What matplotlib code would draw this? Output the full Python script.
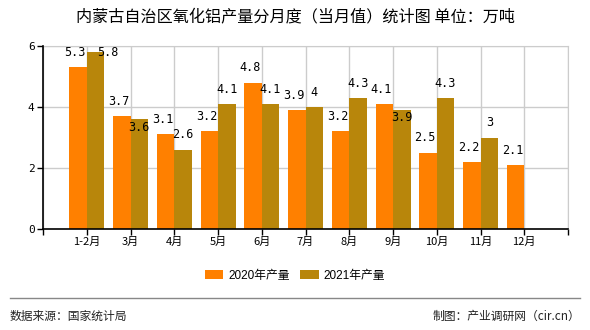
import matplotlib
matplotlib.use("Agg")
import matplotlib.pyplot as plt
import numpy as np

categories = ["1-2月", "3月", "4月", "5月", "6月", "7月", "8月", "9月", "10月", "11月", "12月"]
v2020 = [5.3, 3.7, 3.1, 3.2, 4.8, 3.9, 3.2, 4.1, 2.5, 2.2, 2.1]
v2021 = [5.8, 3.6, 2.6, 4.1, 4.1, 4.0, 4.3, 3.9, 4.3, 3.0, None]
series_names = ["2020年产量", "2021年产量"]
title = "内蒙古自治区氧化铝产量分月度（当月值）统计图 单位：万吨"
source = "数据来源：国家统计局"
credit = "制图：产业调研网（cir.cn）"

C2020 = "#FF8000"
C2021 = "#B8860B"
CJK = ["Noto Sans CJK SC", "DejaVu Sans"]
plt.rcParams["font.family"] = CJK

W, H = 590, 330
fig = plt.figure(figsize=(W / 100, H / 100), dpi=100)
ax = fig.add_axes([43 / W, 1 - 229 / H, (568 - 43) / W, (229 - 46) / H])

n = len(categories)
x = np.arange(n)
bw = 0.4
ax.bar(x - bw / 2, v2020, width=bw, color=C2020, zorder=3, label=series_names[0])
x21 = [xi for xi, v in zip(x, v2021) if v is not None]
y21 = [v for v in v2021 if v is not None]
ax.bar(np.array(x21) + bw / 2, y21, width=bw, color=C2021, zorder=3, label=series_names[1])

ax.set_xlim(-1, n)
ax.set_ylim(0, 6)
ax.set_yticks([0, 2, 4, 6])
ax.set_yticklabels(["0", "2", "4", "6"], fontsize=8, family="DejaVu Sans Mono")
ax.set_xticks(list(range(-1, n + 1)))
ax.set_xticklabels([""] + categories + [""], fontsize=8)
ax.tick_params(axis="both", length=4, width=1, color="black", pad=2)

ax.grid(True, color="#CCCCCC", linewidth=1, zorder=0)
for s in ["top", "right"]:
    ax.spines[s].set_color("#CCCCCC")
for s in ["left", "bottom"]:
    ax.spines[s].set_color("black")
    ax.spines[s].set_linewidth(1.2)
    ax.spines[s].set_zorder(4)

def fmt(v):
    return "%g" % v

lab_kw = dict(fontsize=8.5, family="DejaVu Sans Mono", color="black", zorder=5)
for xi, a, b in zip(x, v2020, v2021):
    ax.annotate(fmt(a), (xi - bw / 2, a), xytext=(-2, 6), textcoords="offset points",
                ha="center", va="bottom", **lab_kw)
    if b is None:
        continue
    if b + 0.45 > 6:
        ax.annotate(fmt(b), (xi + bw / 2, b), xytext=(9, 0), textcoords="offset points",
                    ha="center", va="center", **lab_kw)
    elif b <= a and a - b < 0.3:
        ax.annotate(fmt(b), (xi + bw / 2, b), xytext=(0, -1), textcoords="offset points",
                    ha="center", va="top", **lab_kw)
    else:
        ax.annotate(fmt(b), (xi + bw / 2, b), xytext=(0, 6), textcoords="offset points",
                    ha="center", va="bottom", **lab_kw)

fig.text(0.5, 1 - 17 / H, title, ha="center", va="center", fontsize=11.6, color="black")

fig.legend(loc="center", bbox_to_anchor=(0.5, 1 - 276 / H), ncol=2, frameon=False,
           handlelength=1.6, handleheight=0.8, handletextpad=0.4, columnspacing=0.9,
           prop={"family": ["Liberation Sans", "Noto Sans CJK SC"], "size": 8.5})

fig.add_artist(plt.Line2D([10 / W, 580 / W], [1 - 298 / H, 1 - 298 / H], color="#888888", linewidth=1))
fig.text(10 / W, 1 - 316 / H, source, ha="left", va="center", fontsize=8.5, color="#222222")
fig.text(580 / W, 1 - 316 / H, credit, ha="right", va="center", fontsize=8.5, color="#222222")

fig.savefig("out.png", dpi=100)
